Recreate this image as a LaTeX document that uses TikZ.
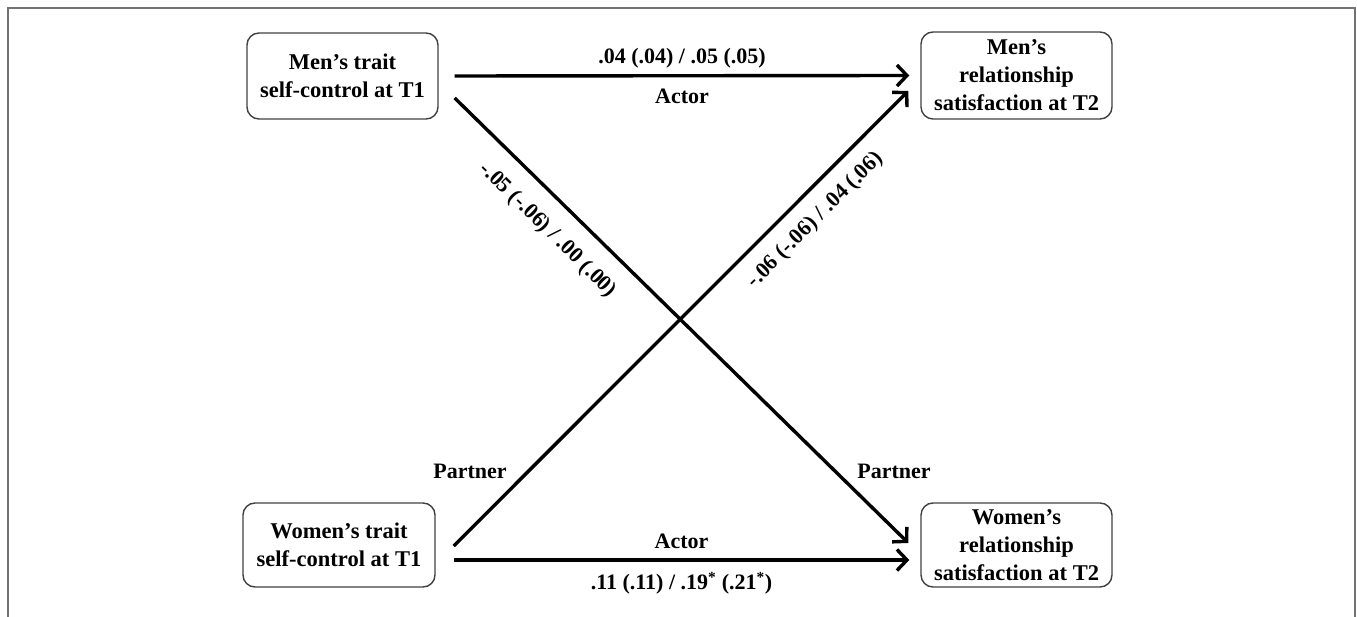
\documentclass[tikz,border=0pt]{standalone}
\usepackage{fontspec}
\setmainfont{Liberation Serif}
\usetikzlibrary{arrows.meta,calc}
\begin{document}
\begin{tikzpicture}[x=1pt,y=-1pt,
  box/.style={draw=black!75, line width=1.4pt, rounded corners=12pt, align=center,
    font=\fontsize{22.5}{28}\selectfont\bfseries, inner sep=0pt},
  lab/.style={font=\fontsize{22}{26}\selectfont\bfseries, inner sep=0pt},
  arr/.style={line width=3.4pt, -{Straight Barb[length=10pt,width=21pt]}},
  frame/.style={draw=black!55, line width=1.5pt}]
\useasboundingbox (0,0) rectangle (1357,617);
\draw[frame] (8,620) -- (8,8) -- (1355,8) -- (1355,620);

\node[box, minimum width=191pt, minimum height=86pt] (mt) at (342.5,76) {Men’s trait\\self-control at T1};
\node[box, minimum width=191pt, minimum height=87pt] (mr) at (1016.5,75.5) {Men’s\\relationship\\satisfaction at T2};
\node[box, minimum width=192pt, minimum height=84pt] (wt) at (339,545) {Women’s trait\\self-control at T1};
\node[box, minimum width=191pt, minimum height=84pt] (wr) at (1016.5,545) {Women’s\\relationship\\satisfaction at T2};

\draw[arr] ($(mt.east)+(16,0)$) --
  node[lab, above=6pt] (v1) {.04 (.04) / .05 (.05)}
  node[lab, below=11.5pt] (a1) {Actor}
  ($(mr.west)+(-11,0)$);

\draw[arr] ($(wt.east)+(18,15)$) --
  node[lab, above=9.7pt] (a2) {Actor}
  node[lab, below=10.5pt] (v2) {.11 (.11) / .19\textsuperscript{*} (.21\textsuperscript{*})}
  ($(wr.west)+(-11,15)$);

\draw[arr] ($(mt.east)+(16,22)$) --
  node[lab, sloped, pos=0.25, anchor=north, inner sep=17.5pt] (v3) {-.05 (-.06) / .00 (.00)}
  ($(wr.west)+(-12,-2)$);

\draw[arr] ($(wt.east)+(18,1)$) --
  node[lab, sloped, pos=0.756, anchor=north, inner sep=14pt] (v4) {-.06 (-.06) / .04 (.06)}
  ($(mr.west)+(-12,15.5)$);

\node[lab] (p1) at (470,471) {Partner};
\node[lab] (p2) at (894,471) {Partner};
\end{tikzpicture}
\end{document}
